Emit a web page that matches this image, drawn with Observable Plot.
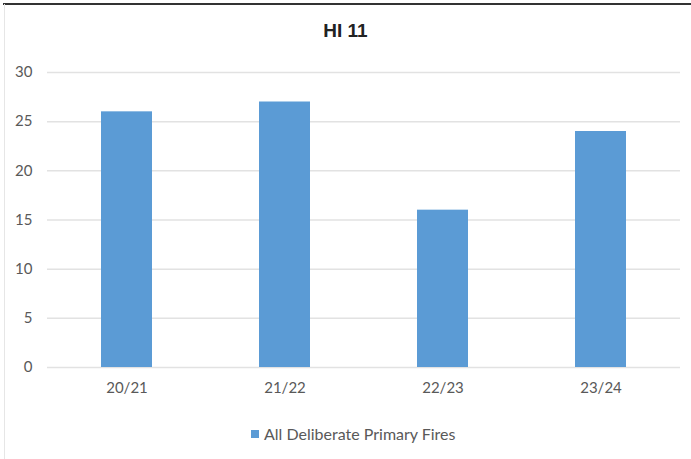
<!DOCTYPE html>
<html>
<head>
<meta charset="utf-8">
<script src="https://cdn.jsdelivr.net/npm/d3@7"></script>
<script src="https://cdn.jsdelivr.net/npm/@observablehq/plot@0.6"></script>
<style>
  html, body { margin: 0; padding: 0; background: #fff; }
  #wrap { position: relative; width: 691px; height: 459px; overflow: hidden; background: #fff; }
  #topline { position: absolute; left: 3px; top: 3px; width: 688px; height: 2px; background: #333; }
  #leftline { position: absolute; left: 4px; top: 4px; width: 1px; height: 455px; background: #e6e6e6; }
  #title { position: absolute; left: 0; width: 691px; top: 20px; text-align: center;
           font-family: "Liberation Sans", Arial, sans-serif; font-weight: bold; font-size: 19px; color: #222; }
  #chart { position: absolute; left: 0; top: 50px; }
  #legend { position: absolute; top: 424px; left: 251px; font-family: Lato, "Open Sans", sans-serif;
            font-size: 16px; color: #595959; display: flex; align-items: center; }
  #legend .sw { width: 8px; height: 8px; background: #5B9BD5; margin-right: 5px; }
</style>
</head>
<body>
<div id="wrap">
  <div id="topline"></div>
  <div id="leftline"></div>
  <div id="title">HI 11</div>
  <div id="chart"></div>
  <div id="legend"><span class="sw"></span><span>All Deliberate Primary Fires</span></div>
</div>
<script>
const categories = ["20/21", "21/22", "22/23", "23/24"];
const values = [26, 27, 16, 24];
const yTicks = [0, 5, 10, 15, 20, 25, 30];
const seriesName = "All Deliberate Primary Fires";

const data = categories.map((c, i) => ({category: c, value: values[i], series: seriesName}));

const chart = Plot.plot({
  width: 691,
  height: 350,
  marginTop: 22,
  marginBottom: 33,
  marginLeft: 47,
  marginRight: 11,
  style: {fontFamily: "Lato, 'Open Sans', sans-serif", fontSize: "15px", color: "#595959", background: "transparent"},
  x: {domain: categories, paddingInner: 0.68, paddingOuter: 0.34, label: null, tickSize: 0},
  y: {domain: [0, 30], ticks: yTicks, label: null, tickSize: 0},
  marks: [
    Plot.ruleY(yTicks, {stroke: "#e2e2e2", strokeWidth: 1.5}),
    Plot.barY(data, {x: "category", y: "value", fill: "#5B9BD5"}),
    Plot.axisX({tickSize: 0, tickPadding: 15, fontSize: 15, fill: "#595959"}),
    Plot.axisY({ticks: yTicks, tickSize: 0, tickPadding: 15, fontSize: 15, fill: "#595959"})
  ]
});
document.getElementById("chart").appendChild(chart);
</script>
</body>
</html>
